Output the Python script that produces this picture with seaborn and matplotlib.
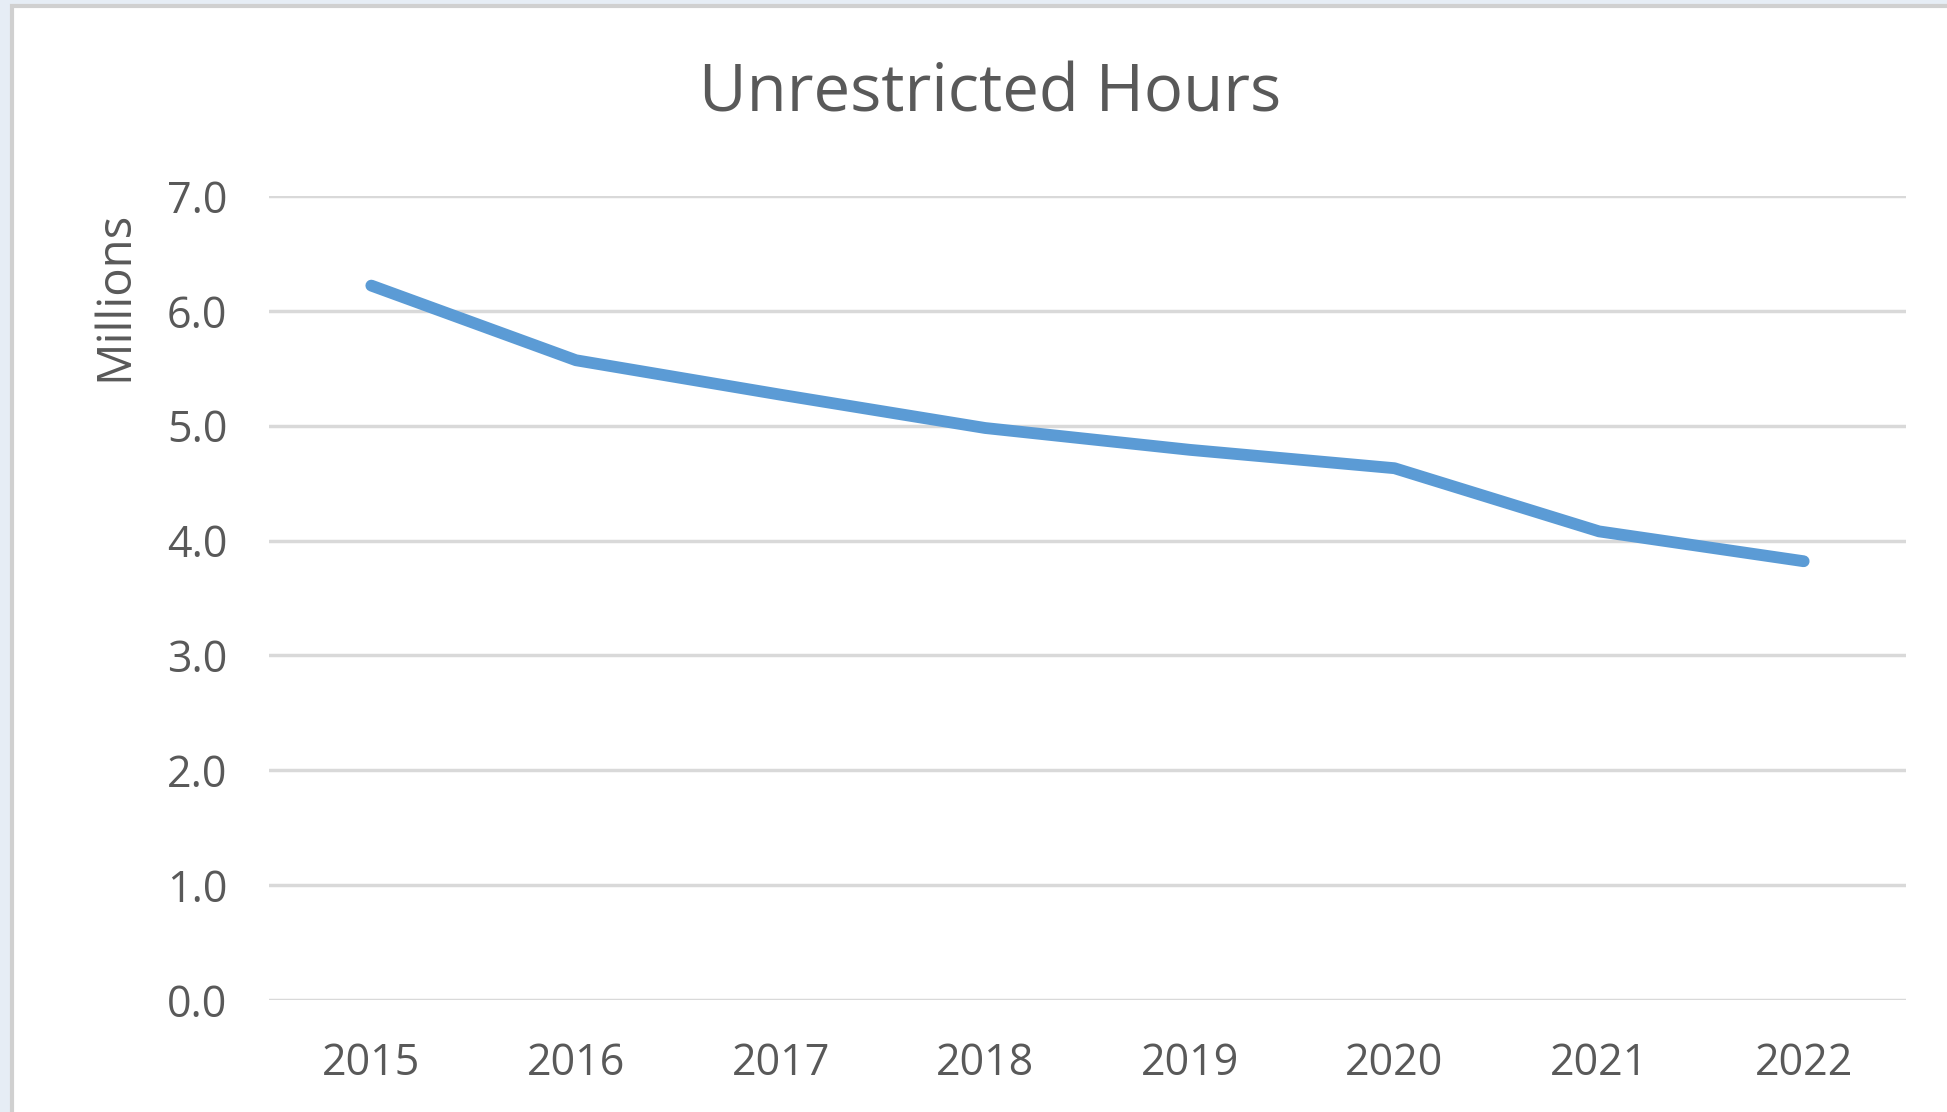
import pandas as pd
import matplotlib.pyplot as plt
import seaborn as sns
from matplotlib.patches import Rectangle

# Data
years = ['2015', '2016', '2017', '2018', '2019', '2020', '2021', '2022']
hours_millions = [6.22, 5.57, 5.27, 4.98, 4.79, 4.63, 4.08, 3.82]
y_ticks = [0.0, 1.0, 2.0, 3.0, 4.0, 5.0, 6.0, 7.0]

df = pd.DataFrame({'Year': years, 'Hours': hours_millions})

sns.set_theme(style='white')
plt.rcParams['font.family'] = ['Open Sans', 'DejaVu Sans']

text_color = '#595959'
grid_color = '#d9d9d9'
line_color = '#5b9bd5'

fig = plt.figure(figsize=(19.47, 11.12), dpi=100)
fig.patch.set_facecolor('#e6edf5')

# white chart panel with grey border
panel = Rectangle((12 / 1947, -0.01), 1.0, 1 - 6 / 1112 + 0.01, transform=fig.transFigure,
                  facecolor='white', edgecolor='#d0d0d0', linewidth=3, zorder=-10)
fig.patches.append(panel)

ax = fig.add_axes([269 / 1947, 1 - 1000 / 1112, (1906 - 269) / 1947, (1000 - 196) / 1112])
ax.set_facecolor('none')
ax.set_zorder(5)

sns.lineplot(data=df, x='Year', y='Hours', ax=ax, color=line_color, linewidth=8.5,
             solid_capstyle='round', solid_joinstyle='round')

ax.set_xlim(-0.5, len(years) - 0.5)
ax.set_ylim(0, 7)
ax.set_yticks(y_ticks)
ax.set_yticklabels([f'{v:.1f}' for v in y_ticks])
ax.yaxis.grid(True, color=grid_color, linewidth=2.5)
ax.set_axisbelow(True)
for s in ax.spines.values():
    s.set_visible(False)
ax.tick_params(axis='both', length=0, labelsize=31, colors=text_color)
ax.tick_params(axis='y', pad=30)
ax.tick_params(axis='x', pad=30)
ax.set_xlabel('')
ax.set_ylabel('')

fig.text(990 / 1947, 1 - 95 / 1112, 'Unrestricted Hours', ha='center', va='center',
         fontsize=47, color=text_color)
fig.text(115 / 1947, 1 - 296 / 1112, 'Millions', ha='center', va='center',
         rotation=90, fontsize=34, color=text_color)

fig.savefig('out.png', dpi=100, facecolor=fig.get_facecolor())
